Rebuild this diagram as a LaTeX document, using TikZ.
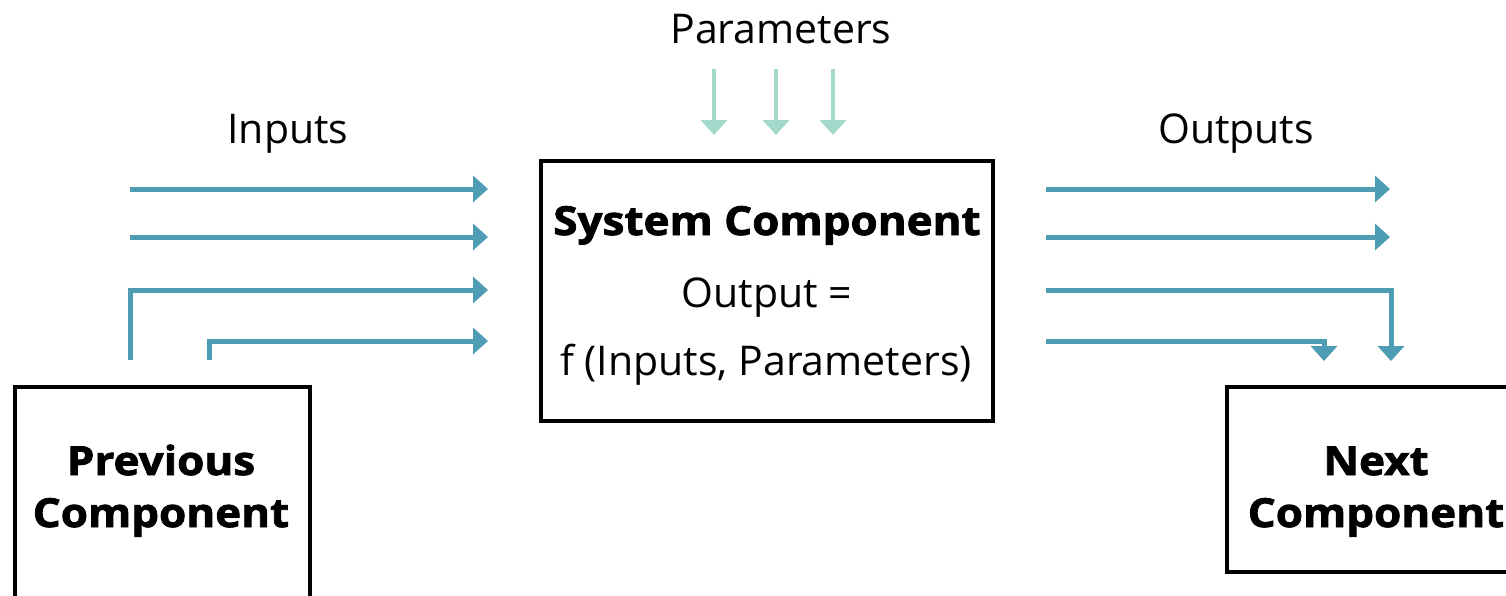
\documentclass[tikz,border=0pt]{standalone}
\usepackage{fontspec}
\setmainfont{Open Sans}
\newfontfamily\heavyfont{Open Sans}[BoldFeatures={FakeBold=2, FakeStretch=1.1}]
\usetikzlibrary{arrows.meta}
\definecolor{flowblue}{HTML}{4E9DB4}
\definecolor{paramgreen}{HTML}{A3D9CA}
\tikzset{
  flow/.style={draw=flowblue, line width=5pt, -{Triangle[length=15pt,width=26pt]}},
  param/.style={draw=paramgreen, line width=4pt, -{Triangle[length=15pt,width=26pt]}},
  boxline/.style={draw=black, line width=4pt},
  lbl/.style={font=\fontsize{41}{48}\selectfont, inner sep=0pt, anchor=base},
  bold/.style={font=\fontsize{40}{48}\selectfont\heavyfont\bfseries, inner sep=0pt, anchor=base},
}
\begin{document}
\begin{tikzpicture}[x=1pt, y=-1pt]
  \useasboundingbox (0,0) rectangle (1506,595);
  \clip (0,0) rectangle (1506,595);

  % system component box and its text
  \node[boxline, minimum width=452pt, minimum height=260pt, inner sep=0pt] (sys) at (767,291) {};
  \node[bold] (systitle) at (767,235) {System Component};
  \node[lbl] (sysout) at (767,307) {Output =};
  \node[lbl] (sysf) at (766,375) {f (Inputs, Parameters)};

  % previous component (runs off the lower edge)
  \node[boxline, minimum width=295pt, minimum height=260pt, inner sep=0pt] (prev) at (162.5,517) {};
  \node[bold] (prevtxt1) at (161,475) {Previous};
  \node[bold] (prevtxt2) at (161,527) {Component};

  % next component (runs off the right edge)
  \node[boxline, minimum width=320pt, minimum height=185pt, inner sep=0pt] (next) at (1387,479.5) {};
  \node[bold] (nexttxt1) at (1376,475) {Next};
  \node[bold] (nexttxt2) at (1376,527) {Component};

  % labels
  \node[lbl] (lparams) at (781,43) {Parameters};
  \node[lbl] (linputs) at (288,143) {Inputs};
  \node[lbl] (loutputs) at (1236,143) {Outputs};

  % input arrow end points
  \coordinate (i1s) at (130,189); \coordinate (i1e) at (488,189);
  \coordinate (i2s) at (130,237); \coordinate (i2e) at (488,237);
  \coordinate (i3s) at (130,360); \coordinate (i3e) at (488,290);
  \coordinate (i4s) at (209,360); \coordinate (i4e) at (488,341);

  % output arrow end points
  \coordinate (o1s) at (1046,189); \coordinate (o1e) at (1390,189);
  \coordinate (o2s) at (1046,237); \coordinate (o2e) at (1390,237);
  \coordinate (o3s) at (1046,290); \coordinate (o3e) at (1391,361);
  \coordinate (o4s) at (1046,341); \coordinate (o4e) at (1324,361);

  % parameter arrow end points
  \coordinate (p1s) at (714,69); \coordinate (p1e) at (714,135);
  \coordinate (p2s) at (776,69); \coordinate (p2e) at (776,135);
  \coordinate (p3s) at (833,69); \coordinate (p3e) at (833,135);

  % inputs
  \draw[flow] (i1s) -- (i1e);
  \draw[flow] (i2s) -- (i2e);
  \draw[flow] (i3s) |- (i3e);
  \draw[flow] (i4s) |- (i4e);

  % outputs
  \draw[flow] (o1s) -- (o1e);
  \draw[flow] (o2s) -- (o2e);
  \draw[flow] (o3s) -| (o3e);
  \draw[flow] (o4s) -| (o4e);

  % parameters
  \draw[param] (p1s) -- (p1e);
  \draw[param] (p2s) -- (p2e);
  \draw[param] (p3s) -- (p3e);
\end{tikzpicture}
\end{document}
